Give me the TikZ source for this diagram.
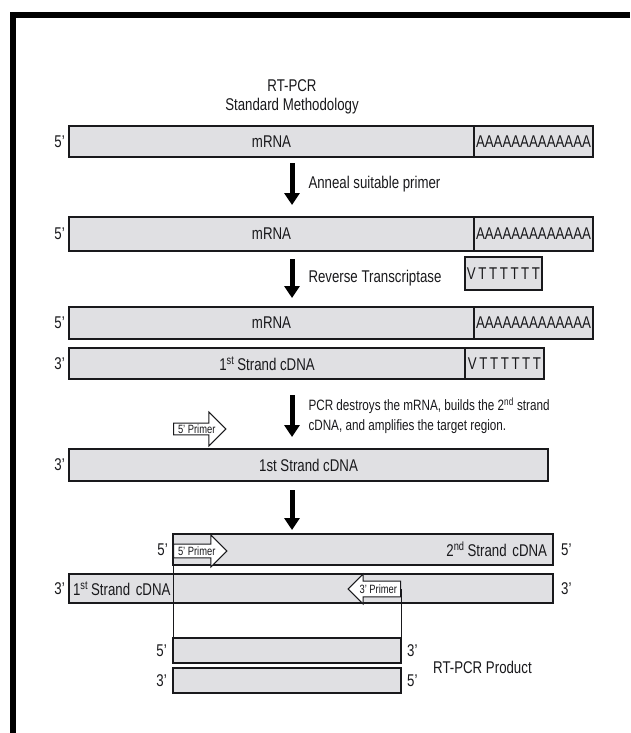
\documentclass[tikz,border=0pt]{standalone}
\usepackage{fontspec}
\setmainfont{Liberation Sans}[FakeStretch=0.78]
\usetikzlibrary{arrows.meta,positioning,shapes.arrows}
\definecolor{barfill}{RGB}{224,224,227}
\definecolor{ink}{RGB}{25,25,28}

\begin{document}
\begin{tikzpicture}[x=1pt, y=-1pt,
    >={Triangle[width=15pt,length=12pt]},
    strand/.style={draw=ink, fill=barfill, line width=1.4pt, inner sep=0pt,
      outer sep=0pt, minimum height=31pt, anchor=north west, text=ink,
      font=\fontsize{17}{19}\selectfont},
    primelbl/.style={inner sep=0pt, text=ink, font=\fontsize{17}{19}\selectfont},
    stepnote/.style={inner sep=0pt, text=ink, align=left,
      font=\fontsize{17}{19}\selectfont},
    bigarrow/.style={line width=5pt, ->, draw=black},
    primer/.style={single arrow, draw=ink, fill=white, line width=1pt,
      inner xsep=4pt, inner ysep=1pt, anchor=tail, text=ink,
      font=\fontsize{12}{12}\selectfont},
    guide/.style={draw=ink, line width=0.9pt}]
  \useasboundingbox (0,0) rectangle (630,733);
  \draw[line width=6pt] (13,733) -- (13,15) -- (630,15);

  \node[stepnote, align=center, font=\fontsize{17}{19}\selectfont] (title) at (292,97)
    {RT-PCR\\Standard Methodology};

  % mRNA with poly-A tail
  \node[strand, minimum width=405pt] (mrna1) at (69,126) {mRNA};
  \node[strand, minimum width=119pt, right=0pt of mrna1] (polya1) {AAAAAAAAAAAAA};
  \node[primelbl, left=4pt of mrna1] {5’};

  \node[strand, minimum width=405pt, minimum height=34pt] (mrna2) at (69,217) {mRNA};
  \node[strand, minimum width=119pt, minimum height=34pt, right=0pt of mrna2] (polya2) {AAAAAAAAAAAAA};
  \node[primelbl, left=4pt of mrna2] {5’};
  \node[strand, minimum width=77pt, minimum height=33pt] (oligo1) at (465,257)
    {V\hspace{2.6pt}T\hspace{2.6pt}T\hspace{2.6pt}T\hspace{2.6pt}T\hspace{2.6pt}T\hspace{2.6pt}T};

  % mRNA / cDNA hybrid
  \node[strand, minimum width=405pt, minimum height=32pt] (mrna3) at (69,307) {mRNA};
  \node[strand, minimum width=119pt, minimum height=32pt, right=0pt of mrna3] (polya3) {AAAAAAAAAAAAA};
  \node[primelbl, left=4pt of mrna3] {5’};
  \node[strand, minimum width=396pt] (cdna4) at (69,348) {1\textsuperscript{st}\hspace{3pt}Strand cDNA};
  \node[strand, minimum width=79pt, right=0pt of cdna4] (oligo2)
    {V\hspace{2.6pt}T\hspace{2.6pt}T\hspace{2.6pt}T\hspace{2.6pt}T\hspace{2.6pt}T\hspace{2.6pt}T};
  \node[primelbl, left=4pt of cdna4] {3’};

  % single strand and primer
  \node[strand, minimum width=479pt, minimum height=32pt] (cdna5) at (69,449) {1st Strand cDNA};
  \node[primelbl, left=4pt of cdna5] {3’};
  \node[primer, single arrow head extend=11pt] (primerA) at (173,429) {5’ Primer};

  % second strand synthesis
  \node[strand, minimum width=380pt, text width=368pt, inner xsep=6pt, align=right] (cdna6) at (173,534)
    {2\textsuperscript{nd}\hspace{3pt}Strand cDNA};
  \node[primelbl, left=5pt of cdna6] {5’};
  \node[primelbl, right=8pt of cdna6] {5’};
  \node[strand, minimum width=484pt, minimum height=29pt, text width=476pt, inner xsep=4pt, align=left] (cdna7) at (69,574)
    {1\textsuperscript{st}\hspace{3pt}Strand cDNA};
  \node[primelbl, left=4pt of cdna7] {3’};
  \node[primelbl, right=8pt of cdna7] {3’};
  \node[primer, inner ysep=2pt, single arrow head extend=9pt] (primerB) at (173,551) {5’ Primer};
  \node[primer, inner ysep=3pt, inner xsep=3pt, single arrow head extend=7pt, shape border rotate=180] (primerC) at (401,589) {3’ Primer};

  % product
  \node[strand, minimum width=228pt, minimum height=25pt] (prodtop) at (173,638) {};
  \node[strand, minimum width=228pt, minimum height=25pt] (prodbot) at (173,668) {};
  \node[primelbl, left=6pt of prodtop] {5’};
  \node[primelbl, right=6pt of prodtop] {3’};
  \node[primelbl, left=6pt of prodbot] {3’};
  \node[primelbl, right=6pt of prodbot] {5’};
  \node[stepnote, anchor=west] (product) at (433,667) {RT-PCR Product};

  \draw[guide] (cdna6.north west) -- (prodtop.north west);
  \draw[guide] (primerC.tail) -- (prodtop.north east);

  % steps
  \draw[bigarrow] ([yshift=-6pt]title |- mrna1.south) -- ([yshift=12pt]title |- mrna2.north)
    node[midway, right=14pt, stepnote] {Anneal suitable primer};
  \draw[bigarrow] ([yshift=-8pt]title |- mrna2.south) -- ([yshift=9pt]title |- mrna3.north)
    node[midway, right=14pt, stepnote] {Reverse Transcriptase};
  \draw[bigarrow] ([yshift=-16pt]title |- cdna4.south) -- ([yshift=12pt]title |- cdna5.north)
    node[midway, right=14pt, stepnote, font=\fontsize{15}{20}\selectfont]
    {PCR destroys the mRNA, builds the 2\textsuperscript{nd} strand\\cDNA, and amplifies the target region.};
  \draw[bigarrow] ([yshift=-9pt]title |- cdna5.south) -- ([yshift=4pt]title |- cdna6.north);
\end{tikzpicture}
\end{document}
